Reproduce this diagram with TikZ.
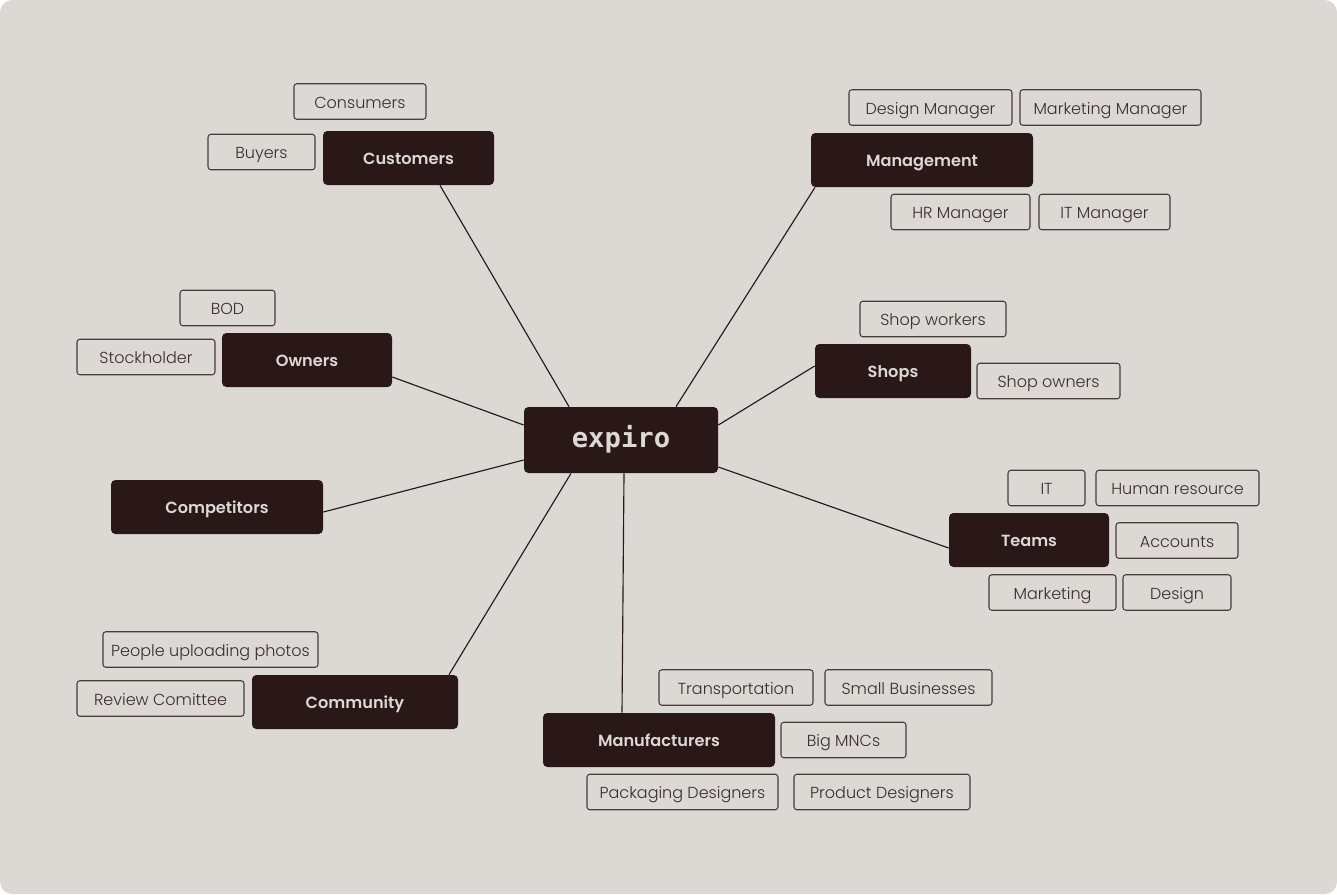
\documentclass[tikz,border=0pt]{standalone}
\usepackage{fontspec}
\setmainfont{Poppins}[UprightFont=* Light,BoldFont=* SemiBold]
\newfontfamily\logofont{DejaVu Sans Mono Bold}
\usepackage{xcolor}
\definecolor{paper}{HTML}{DCD9D5}
\definecolor{ink}{HTML}{2A1717}
\definecolor{inktext}{HTML}{3B2B2B}
\tikzset{
  boxw/.style={minimum width=#1*0.02cm},
  boxh/.style={minimum height=#1*0.02cm},
  stakeholder/.style={fill=ink,text=paper,rounded corners=2.5pt,inner sep=0pt,boxh=54,text height=7pt,text depth=0pt,font=\fontsize{9.2}{12}\selectfont\bfseries},
  member/.style={draw=ink!85,line width=0.6pt,text=inktext,rounded corners=1.6pt,inner sep=0pt,boxh=35.5,text height=7.7pt,text depth=0pt,font=\fontsize{9.1}{12}\selectfont},
  link/.style={draw=ink,line width=0.65pt}
}
\begin{document}
\begin{tikzpicture}[x=0.02cm,y=-0.02cm]
  \useasboundingbox (0,0) rectangle (1337,894);
  \fill[paper,rounded corners=7pt] (0,0) rectangle (1337,894);

  % centre
  \node[stakeholder,boxw=194,boxh=66,text height=9pt,font=\logofont\fontsize{15.5}{18}\selectfont] (hub) at (621,440) {expiro};

  % stakeholder groups
  \node[stakeholder,boxw=171] (customers) at (408.5,158) {Customers};
  \node[stakeholder,boxw=222] (management) at (922,160) {Management};
  \node[stakeholder,boxw=156] (shops) at (893,371) {Shops};
  \node[stakeholder,boxw=160] (teams) at (1029,540) {Teams};
  \node[stakeholder,boxw=232] (manufacturers) at (659,740) {Manufacturers};
  \node[stakeholder,boxw=206] (community) at (355,702) {Community};
  \node[stakeholder,boxw=212] (competitors) at (217,507) {Competitors};
  \node[stakeholder,boxw=170] (owners) at (307,360) {Owners};

  % customers
  \node[member,boxw=132] (consumers) at (360,101.5) {Consumers};
  \node[member,boxw=107] (buyers) at (261.5,152) {Buyers};

  % management
  \node[member,boxw=163] (design manager) at (930.5,107.5) {Design Manager};
  \node[member,boxw=181] (marketing manager) at (1110.5,107.5) {Marketing Manager};
  \node[member,boxw=139] (hr manager) at (960.5,212) {HR Manager};
  \node[member,boxw=131] (it manager) at (1104.5,212) {IT Manager};

  % shops
  \node[member,boxw=146] (shop workers) at (933,319) {Shop workers};
  \node[member,boxw=143] (shop owners) at (1048.5,381) {Shop owners};

  % teams
  \node[member,boxw=77] (it) at (1046.5,488) {IT};
  \node[member,boxw=163] (human resource) at (1177.5,488) {Human resource};
  \node[member,boxw=122] (accounts) at (1177,540.5) {Accounts};
  \node[member,boxw=127] (marketing) at (1052.5,592.5) {Marketing};
  \node[member,boxw=108] (design) at (1177,592.5) {Design};

  % manufacturers
  \node[member,boxw=154] (transportation) at (736,687.5) {Transportation};
  \node[member,boxw=167] (small businesses) at (908.5,687.5) {Small Businesses};
  \node[member,boxw=125] (big mncs) at (843.5,740) {Big MNCs};
  \node[member,boxw=191] (packaging designers) at (682.5,792) {Packaging Designers};
  \node[member,boxw=176] (product designers) at (882,792) {Product Designers};

  % community
  \node[member,boxw=215] (people uploading) at (210.5,649.5) {People uploading photos};
  \node[member,boxw=167] (review comittee) at (160.5,698.5) {Review Comittee};

  % owners
  \node[member,boxw=95] (bod) at (227.5,308) {BOD};
  \node[member,boxw=138] (stockholder) at (146,357) {Stockholder};

  % spokes
  \draw[link] ([shift={(31.5,0)}]customers.south) -- ([shift={(-52,0)}]hub.north);
  \draw[link] ([shift={(-107,0)}]management.south) -- ([shift={(55,0)}]hub.north);
  \draw[link] ([shift={(0,-5)}]shops.west) -- ([shift={(0,-15)}]hub.east);
  \draw[link] ([shift={(0,8)}]teams.west) -- ([shift={(0,27)}]hub.east);
  \draw[link] ([shift={(-37,0)}]manufacturers.north) -- ([shift={(3,0)}]hub.south);
  \draw[link] ([shift={(94,0)}]community.north) -- ([shift={(-50,0)}]hub.south);
  \draw[link] ([shift={(0,5)}]competitors.east) -- ([shift={(0,20)}]hub.west);
  \draw[link] ([shift={(0,17)}]owners.east) -- ([shift={(0,-15)}]hub.west);
\end{tikzpicture}
\end{document}
